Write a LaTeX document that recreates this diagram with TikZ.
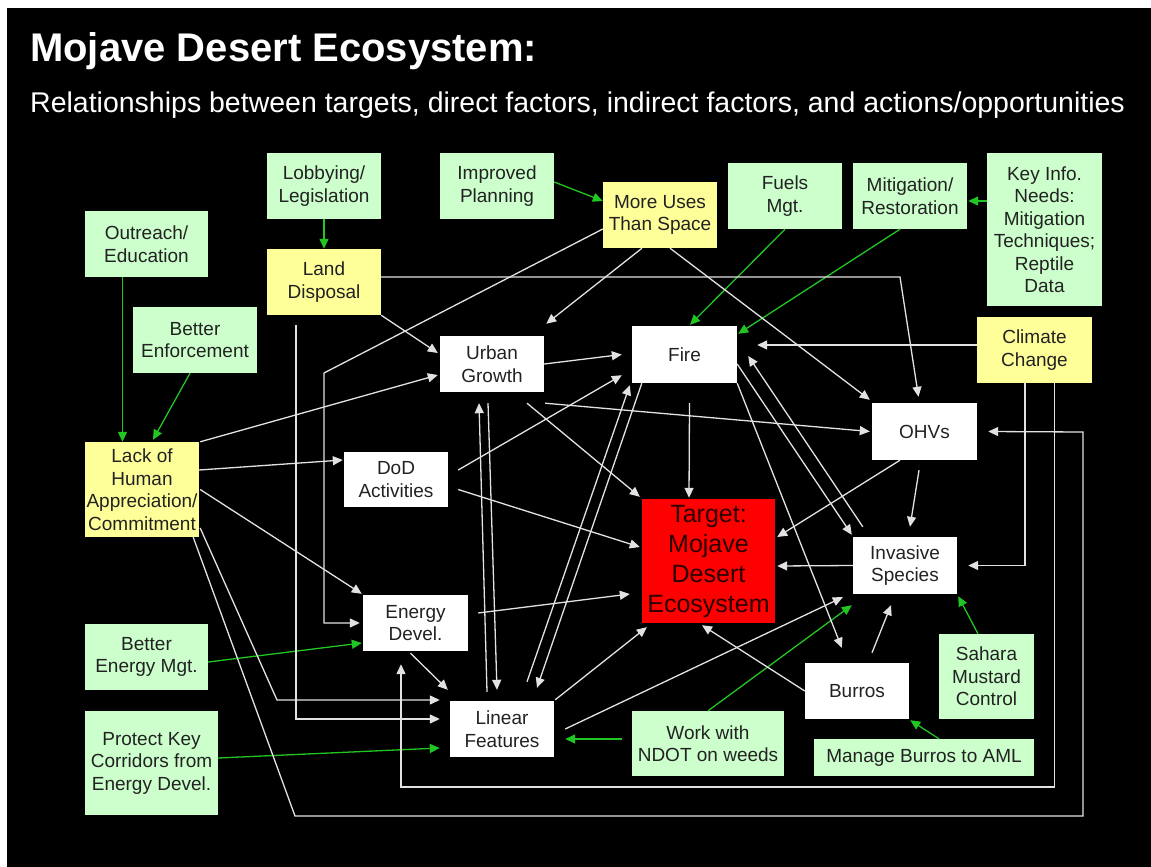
\documentclass[tikz,border=0pt]{standalone}
\usepackage{fontspec}
\setmainfont{Liberation Sans}
\usetikzlibrary{arrows.meta}
\definecolor{actgreen}{HTML}{CCFFCC}
\definecolor{indyellow}{HTML}{FFFF99}
\definecolor{tgtred}{HTML}{FF0000}
\definecolor{linkgray}{HTML}{E2E2E2}
\definecolor{linkgreen}{HTML}{22C622}
\definecolor{boxtext}{HTML}{222222}
\definecolor{tgttext}{HTML}{2A0000}

\tikzset{
  basebox/.style={rectangle, inner sep=0pt, align=center, text=boxtext,
    font=\fontsize{19}{22.5}\selectfont},
  actbox/.style={basebox, fill=actgreen},
  indbox/.style={basebox, fill=indyellow},
  dirbox/.style={basebox, fill=white},
  wline/.style={draw=linkgray, line width=1.3pt, -{Triangle[length=10pt,width=9pt]}},
  gline/.style={draw=linkgreen, line width=1.3pt, -{Triangle[length=10pt,width=9pt]}},
}

\begin{document}
\begin{tikzpicture}[x=1pt, y=-1pt]
  % page and slide background
  \fill[white] (0,0) rectangle (1151,867);
  \fill[black] (7,8) rectangle (1151,867);
  \useasboundingbox (0,0) rectangle (1151,867);

  % headings
  \node[anchor=base west, text=white, inner sep=0pt,
        font=\fontsize{40}{44}\selectfont\bfseries] (title) at (30,62)
        {Mojave Desert Ecosystem:};
  \node[anchor=base west, text=white, inner sep=0pt,
        font=\fontsize{28.5}{32}\selectfont] (subtitle) at (30,112)
        {Relationships between targets, direct factors, indirect factors, and actions/opportunities};

  % actions / opportunities
  \node[actbox, minimum width=114pt, minimum height=66pt] (lobby) at (324,186) {Lobbying/\\Legislation};
  \node[actbox, minimum width=123pt, minimum height=66pt] (outreach) at (146.5,244) {Outreach/\\Education};
  \node[actbox, minimum width=124pt, minimum height=66pt] (enforce) at (195,340) {Better\\Enforcement};
  \node[actbox, minimum width=114pt, minimum height=66pt] (planning) at (497,186) {Improved\\Planning};
  \node[actbox, minimum width=114pt, minimum height=66pt] (fuels) at (785,196) {Fuels\\Mgt.};
  \node[actbox, minimum width=114pt, minimum height=66pt] (mitig) at (910,196) {Mitigation/\\Restoration};
  \node[actbox, minimum width=115pt, minimum height=153pt] (keyinfo) at (1044.5,229.5)
        {Key Info.\\Needs:\\Mitigation\\Techniques;\\Reptile\\Data};
  \node[actbox, minimum width=123pt, minimum height=66pt] (bem) at (146.5,657) {Better\\Energy Mgt.};
  \node[actbox, minimum width=133pt, minimum height=104pt] (protect) at (151.5,763)
        {Protect Key\\Corridors from\\Energy Devel.};
  \node[actbox, minimum width=152pt, minimum height=65pt] (ndot) at (708,743.5) {Work with\\NDOT on weeds};
  \node[actbox, minimum width=95pt, minimum height=85pt] (sahara) at (986.5,676.5) {Sahara\\Mustard\\Control};
  \node[actbox, minimum width=220pt, minimum height=37pt] (manage) at (924,757.5) {Manage Burros to AML};

  % indirect factors
  \node[indbox, minimum width=114pt, minimum height=66pt] (land) at (324,282) {Land\\Disposal};
  \node[indbox, minimum width=114pt, minimum height=66pt] (moreuses) at (660,215) {More Uses\\Than Space};
  \node[indbox, minimum width=115pt, minimum height=66pt] (climate) at (1034.5,350) {Climate\\Change};
  \node[indbox, minimum width=114pt, minimum height=95pt] (lack) at (142,489.5)
        {Lack of\\Human\\Appreciation/\\Commitment};

  % direct factors
  \node[dirbox, minimum width=104pt, minimum height=56pt] (urban) at (492,364) {Urban\\Growth};
  \node[dirbox, minimum width=105pt, minimum height=57pt] (fire) at (684.5,354.5) {Fire};
  \node[dirbox, minimum width=105pt, minimum height=57pt] (ohv) at (924.5,431.5) {OHVs};
  \node[dirbox, minimum width=104pt, minimum height=55pt] (dod) at (396,479.5) {DoD\\Activities};
  \node[dirbox, minimum width=104pt, minimum height=57pt] (invasive) at (905,565.5) {Invasive\\Species};
  \node[dirbox, minimum width=105pt, minimum height=56pt] (energy) at (415.5,623) {Energy\\Devel.};
  \node[dirbox, minimum width=104pt, minimum height=56pt] (linear) at (502,729) {Linear\\Features};
  \node[dirbox, minimum width=104pt, minimum height=56pt] (burros) at (857,691) {Burros};

  % target
  \node[basebox, fill=tgtred, text=tgttext, minimum width=133pt, minimum height=124pt,
        font=\fontsize{25}{30}\selectfont] (target) at (708.5,561)
        {Target:\\Mojave\\Desert\\Ecosystem};

  % bend points of the routed links
  \coordinate (k1) at (900,277);
  \coordinate (k2) at (296,719);
  \coordinate (k3) at (324,373);
  \coordinate (k4) at (401,787);
  \coordinate (k5) at (295,816);
  \coordinate (k6) at (1083,432);
  \coordinate (k7) at (277,700);

  % actions acting on factors
  \draw[gline] (lobby.south) -- (land.north);
  \draw[gline] ([xshift=-24pt]outreach.south) -- ([xshift=-24pt]outreach.south |- lack.north);
  \draw[gline] ([xshift=-5pt]enforce.south) -- ([shift={(11,-2)}]lack.north);
  \draw[gline] ([shift={(0,-4)}]planning.east) -- ([shift={(0,-14)}]moreuses.west);
  \draw[gline] (fuels.south) -- ([shift={(5.5,-1)}]fire.north);
  \draw[gline] ([xshift=-10pt]mitig.south) -- ([shift={(1,8)}]fire.north east);
  \draw[gline] ([shift={(0,-28.5)}]keyinfo.west) -- ([shift={(1,5)}]mitig.east);
  \draw[gline] ([xshift=-8.5pt]sahara.north) -- ([shift={(1,2)}]invasive.south east);
  \draw[gline] ([xshift=15pt]manage.north) -- ([shift={(1,1)}]burros.south east);
  \draw[gline] ([shift={(-10,-4.5)}]ndot.west) -- ([shift={(11,10)}]linear.east);
  \draw[gline] (ndot.north) -- ([shift={(-1,11)}]invasive.south west);
  \draw[gline] ([shift={(0,5)}]bem.east) -- ([shift={(-1,20)}]energy.west);
  \draw[gline] ([shift={(0,-5)}]protect.east) -- ([shift={(-10,19)}]linear.west);

  % links among factors
  \draw[wline] ([shift={(0,-5)}]land.east) -- (k1) -- ([shift={(-6,-6)}]ohv.north);
  \draw[wline] (land.south east) -- ([shift={(-2,-11)}]urban.west);
  \draw[wline] ([shift={(-28,10)}]land.south) -- (k2) -- ([shift={(-10,-10)}]linear.west);
  \draw[wline] ([shift={(0,14)}]moreuses.west) -- (k3) |- ([xshift=-3pt]energy.west);
  \draw[wline] ([xshift=-18pt]moreuses.south) -- ([shift={(2,-12)}]urban.north east);
  \draw[wline] ([xshift=10pt]moreuses.south) -- ([shift={(-2,-3)}]ohv.north west);
  \draw[wline] ([shift={(0,-5)}]climate.west) -- ([shift={(20,-9.5)}]fire.east);
  \draw[wline] ([xshift=-9.5pt]climate.south) |- ([xshift=11pt]invasive.east);
  \draw[wline] ([xshift=20pt]climate.south) |- (k4) -- ([shift={(-14.5,13)}]energy.south);
  \draw[wline] ([xshift=-6pt]lack.south east) -- (k5) -| (k6) -- ([xshift=11pt]ohv.east);
  \draw[wline] ([shift={(1,38.5)}]lack.east) -- (k7) -- ([shift={(-10,-29)}]linear.west);
  \draw[wline] ([shift={(1,0)}]lack.north east) -- ([shift={(-2,11)}]urban.west);
  \draw[wline] ([shift={(0,-19.5)}]lack.east) -- ([shift={(-1,-19.5)}]dod.west);
  \draw[wline] ([shift={(1,0)}]lack.east) -- ([shift={(-1,-1)}]energy.north west);
  \draw[wline] (urban.east) -- ([shift={(-10,0)}]fire.west);
  \draw[wline] ([shift={(35,11)}]urban.south) -- ([shift={(-2,-2)}]target.north west);
  \draw[wline] ([shift={(1,11)}]urban.south east) -- ([shift={(-2,0)}]ohv.west);
  \draw[wline] ([shift={(-15,-9)}]linear.north) -- ([shift={(-13,11)}]urban.south);
  \draw[wline] ([shift={(-4,11)}]urban.south) -- ([shift={(-5,-11)}]linear.north);
  \draw[wline] ([shift={(10,-9.5)}]dod.east) -- ([shift={(-10,-8)}]fire.south west);
  \draw[wline] ([shift={(10,10)}]dod.east) -- ([shift={(-2,-14)}]target.west);
  \draw[wline] ([shift={(10,-10)}]energy.east) -- ([shift={(-12,33)}]target.west);
  \draw[wline] ([shift={(-5,2)}]energy.south) -- ([shift={(-2,-11)}]linear.north west);
  \draw[wline] ([shift={(5,20)}]fire.south) -- ([shift={(-19.5,-1)}]target.north);
  \draw[wline] ([shift={(25,-19)}]linear.north) -- ([shift={(-2,2)}]fire.south west);
  \draw[wline] ([shift={(10,0)}]fire.south west) -- ([shift={(35,-13)}]linear.north);
  \draw[wline] ([shift={(1,-1)}]linear.north east) -- ([shift={(5,4)}]target.south west);
  \draw[wline] ([shift={(11,0)}]linear.east) -- ([shift={(-10,3)}]invasive.south west);
  \draw[wline] ([shift={(0,9.5)}]fire.east) -- ([shift={(-1,-2)}]invasive.north west);
  \draw[wline] ([shift={(10,-10)}]invasive.north west) -- ([shift={(11,1.5)}]fire.east);
  \draw[wline] (fire.south east) -- ([shift={(37,-15)}]burros.north west);
  \draw[wline] ([xshift=-24.5pt]ohv.south) -- ([shift={(2,-24)}]target.east);
  \draw[wline] ([shift={(-5.5,10)}]ohv.south) -- ([shift={(5,-10)}]invasive.north);
  \draw[wline] (invasive.west) -- ([shift={(2,5)}]target.east);
  \draw[wline] ([shift={(15,-10)}]burros.north) -- ([shift={(-14,11)}]invasive.south);
  \draw[wline] (burros.west) -- ([shift={(-6.5,2)}]target.south);
\end{tikzpicture}
\end{document}
